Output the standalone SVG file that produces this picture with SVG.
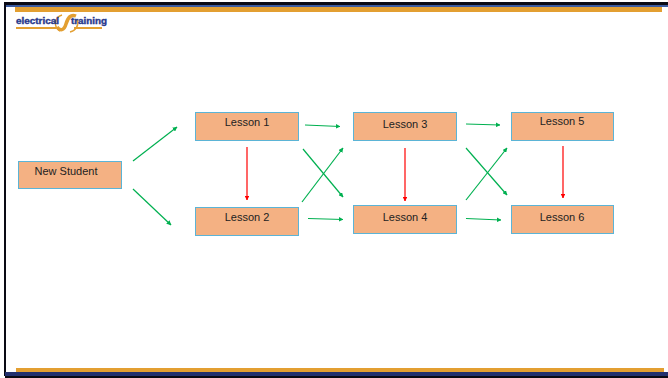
<svg xmlns="http://www.w3.org/2000/svg" width="668" height="378" viewBox="0 0 668 378">
<style>
.node rect{fill:#F4B183;stroke:#5BB4D6;stroke-width:1}
.node text{font-family:"Liberation Sans",Arial,sans-serif;font-size:11px;fill:#222;text-anchor:middle}
.g{stroke:#00B050;stroke-width:1.2;fill:none;marker-end:url(#ag)}
.r{stroke:#FF0000;stroke-width:1.2;fill:none;marker-end:url(#ar)}
</style>
<defs>
<marker id="ag" viewBox="0 0 10 10" refX="9" refY="5" markerWidth="4" markerHeight="4" orient="auto" markerUnits="strokeWidth"><path d="M0,0 L10,5 L0,10 z" fill="#00B050"/></marker>
<marker id="ar" viewBox="0 0 10 10" refX="9" refY="5" markerWidth="4" markerHeight="4" orient="auto" markerUnits="strokeWidth"><path d="M0,0 L10,5 L0,10 z" fill="#FF0000"/></marker>
</defs>
<rect width="668" height="378" fill="#fff"/>
<g id="frame">
<rect x="4" y="2" width="664" height="3" fill="#0a0a14"/>
<rect x="5" y="5" width="663" height="2" fill="#3B5BA0"/>
<rect x="15" y="7" width="647" height="5" fill="#E39F31"/>
<rect x="4" y="3" width="2" height="373" fill="#0a0a14"/>
<rect x="16" y="368" width="648" height="4" fill="#E39F31"/>
<rect x="5" y="372" width="663" height="4" fill="#22306E"/>
<rect x="5" y="376" width="663" height="2" fill="#0a0a14"/>
</g>
<g id="logo">
<path d="M57,27 C60,31 64,31 66,24 C68,17 71,14 76,16" stroke="#E39F31" stroke-width="3.5" fill="none"/>
<path d="M62,15 A10,9 0 0 0 60,31 M70,32 A10,9 0 0 0 77,20" stroke="#E39F31" stroke-width="1.5" fill="none"/>
<text x="16" y="24" font-family="'Liberation Sans',Arial,sans-serif" font-size="9" font-weight="bold" fill="#2A3A8C" stroke="#2A3A8C" stroke-width="0.4" textLength="43" lengthAdjust="spacingAndGlyphs">electrical</text>
<text x="71" y="24" font-family="'Liberation Sans',Arial,sans-serif" font-size="9" font-weight="bold" fill="#2A3A8C" stroke="#2A3A8C" stroke-width="0.4" textLength="36" lengthAdjust="spacingAndGlyphs">training</text>
<rect x="16" y="27" width="40" height="2" fill="#E39F31"/>
<rect x="74" y="27" width="28" height="2" fill="#E39F31"/>
</g>
<g id="connectors">
<line class="g" x1="133" y1="161" x2="177" y2="127"/>
<line class="g" x1="133" y1="189" x2="171" y2="225"/>
<line class="r" x1="247" y1="147" x2="247" y2="200"/>
<line class="g" x1="305" y1="125" x2="340" y2="126.5"/>
<line class="g" x1="308" y1="218.5" x2="343" y2="219.5"/>
<line class="g" x1="303" y1="149" x2="343" y2="197"/>
<line class="g" x1="302" y1="202" x2="343" y2="148"/>
<line class="r" x1="405" y1="148" x2="405" y2="201"/>
<line class="g" x1="466" y1="124" x2="500" y2="125"/>
<line class="g" x1="466" y1="218.5" x2="501" y2="220"/>
<line class="g" x1="466" y1="148" x2="507" y2="195"/>
<line class="g" x1="466" y1="200" x2="507" y2="148"/>
<line class="r" x1="563" y1="146" x2="563" y2="198"/>
</g>
<g id="new-student" class="node"><rect x="18.5" y="161.5" width="103" height="27"/><text x="66" y="175">New Student</text></g>
<g id="lesson-1" class="node"><rect x="195.5" y="112.5" width="103" height="28"/><text x="247" y="126">Lesson 1</text></g>
<g id="lesson-2" class="node"><rect x="195.5" y="207.5" width="103" height="28"/><text x="247" y="221">Lesson 2</text></g>
<g id="lesson-3" class="node"><rect x="353.5" y="112.5" width="103" height="28"/><text x="405" y="127.5">Lesson 3</text></g>
<g id="lesson-4" class="node"><rect x="353.5" y="205.5" width="103" height="28"/><text x="405" y="221">Lesson 4</text></g>
<g id="lesson-5" class="node"><rect x="511.5" y="112.5" width="102" height="28"/><text x="562" y="125">Lesson 5</text></g>
<g id="lesson-6" class="node"><rect x="511.5" y="205.5" width="102" height="28"/><text x="562" y="221">Lesson 6</text></g>
</svg>
